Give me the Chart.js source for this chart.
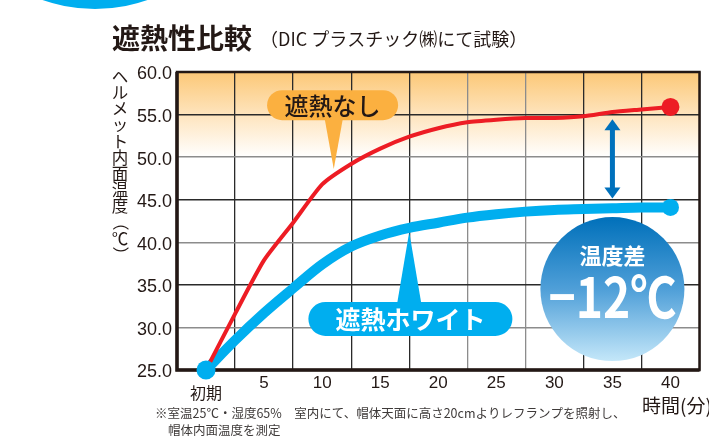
<!DOCTYPE html>
<html lang="ja">
<head>
<meta charset="utf-8">
<title>遮熱性比較</title>
<script src="https://cdn.jsdelivr.net/npm/chart.js@4.4.1/dist/chart.umd.min.js"></script>
<style>
  html, body { margin: 0; padding: 0; background: #fff; overflow: hidden; }
  canvas { display: block; }
</style>
</head>
<body>
<canvas id="heatChart" width="709" height="439"></canvas>
<script>
// temperature inside the helmet (°C), sampled every 2.5 minutes
const minutes = [0, 2.5, 5, 7.5, 10, 12.5, 15, 17.5, 20, 22.5, 25, 27.5, 30, 32.5, 35, 37.5, 40];
const noShield = [25, 31.6, 37.9, 42.3, 46.8, 49.2, 51.0, 52.4, 53.4, 54.1, 54.4, 54.6, 54.6, 54.8, 55.3, 55.6, 55.9];
const whiteShield = [25, 28.5, 31.7, 34.6, 37.4, 39.5, 40.8, 41.7, 42.3, 42.9, 43.3, 43.6, 43.8, 43.9, 44.0, 44.1, 44.1];

const xTicks = [0, 5, 10, 15, 20, 25, 30, 35, 40];
const xTickLabels = ['初期', '5', '10', '15', '20', '25', '30', '35', '40'];
const yTicks = [25, 30, 35, 40, 45, 50, 55, 60];
const seriesNames = ['遮熱なし', '遮熱ホワイト'];
const gapLabel = '温度差';
const gapValue = '−12℃';

const CJK = '"Noto Sans CJK JP", sans-serif';
const INK = '#231815';

function pill(ctx, cx, cy, w, h) {
  const r = h / 2, x = cx - w / 2, y = cy - h / 2;
  ctx.beginPath();
  ctx.moveTo(x + r, y);
  ctx.lineTo(x + w - r, y);
  ctx.arc(x + w - r, cy, r, -Math.PI / 2, Math.PI / 2);
  ctx.lineTo(x + r, y + h);
  ctx.arc(x + r, cy, r, Math.PI / 2, Math.PI * 1.5);
  ctx.closePath();
  ctx.fill();
}

function callout(ctx, box, tip, baseHalf, color, text, textColor, font) {
  ctx.fillStyle = color;
  pill(ctx, box.x, box.y, box.w, box.h);
  const baseY = tip.y > box.y ? box.y + box.h / 2 - 1 : box.y - box.h / 2 + 1;
  ctx.beginPath();
  ctx.moveTo(tip.x - baseHalf, baseY);
  ctx.lineTo(tip.x + baseHalf, baseY);
  ctx.lineTo(tip.x, tip.y);
  ctx.closePath();
  ctx.fill();
  ctx.fillStyle = textColor;
  ctx.font = font;
  ctx.textAlign = 'center';
  ctx.textBaseline = 'middle';
  ctx.fillText(text, box.x, box.y + 1);
}

const decor = {
  id: 'decor',
  beforeDraw(chart) {
    const { ctx, chartArea: a, scales: { y } } = chart;
    const g = ctx.createLinearGradient(0, a.top, 0, y.getPixelForValue(50));
    g.addColorStop(0, '#fcc877');
    g.addColorStop(0.5, '#fee4bd');
    g.addColorStop(1, '#ffffff');
    ctx.save();
    ctx.fillStyle = g;
    ctx.fillRect(a.left, a.top, a.width, a.height);
    ctx.restore();
  },
  beforeDatasetsDraw(chart) {
    const { ctx, chartArea: a } = chart;
    ctx.save();
    ctx.strokeStyle = INK;
    ctx.lineWidth = 2.5;
    ctx.strokeRect(a.left, a.top, a.width, a.height);
    ctx.lineWidth = 3.5;
    ctx.beginPath();
    ctx.moveTo(a.left, a.top);
    ctx.lineTo(a.left, a.bottom);
    ctx.lineTo(a.right, a.bottom);
    ctx.stroke();
    ctx.restore();
  },
  afterDatasetsDraw(chart) {
    const { ctx, scales: { x, y } } = chart;
    ctx.save();

    // series callouts
    callout(ctx,
      { x: x.getPixelForValue(10.9), y: y.getPixelForValue(56.1), w: 131, h: 30 },
      { x: x.getPixelForValue(11), y: y.getPixelForValue(48.6) },
      9, '#fbb040', seriesNames[0], INK, '500 24px ' + CJK);
    callout(ctx,
      { x: x.getPixelForValue(17.6), y: y.getPixelForValue(31.0), w: 204, h: 34 },
      { x: x.getPixelForValue(17.5), y: y.getPixelForValue(41.2) },
      12, '#00aeef', seriesNames[1], '#ffffff', 'bold 25px ' + CJK);

    // double arrow between the two curves at 35 min
    const ax = x.getPixelForValue(35);
    const top = y.getPixelForValue(54.45), bot = y.getPixelForValue(45.15);
    ctx.fillStyle = '#0071bc';
    ctx.fillRect(ax - 2.5, top + 10, 5, bot - top - 20);
    ctx.beginPath();
    ctx.moveTo(ax, top); ctx.lineTo(ax + 8, top + 11); ctx.lineTo(ax - 8, top + 11);
    ctx.closePath(); ctx.fill();
    ctx.beginPath();
    ctx.moveTo(ax, bot); ctx.lineTo(ax + 8, bot - 11); ctx.lineTo(ax - 8, bot - 11);
    ctx.closePath(); ctx.fill();

    // temperature difference badge
    const cx = x.getPixelForValue(35), cy = y.getPixelForValue(34.5), r = 72;
    const g = ctx.createLinearGradient(0, cy - r, 0, cy + r);
    g.addColorStop(0, '#0070ba');
    g.addColorStop(0.5, '#4f9fd8');
    g.addColorStop(1, '#c4e7f9');
    ctx.fillStyle = g;
    ctx.beginPath();
    ctx.arc(cx, cy, r, 0, Math.PI * 2);
    ctx.fill();
    ctx.fillStyle = '#ffffff';
    ctx.textAlign = 'center';
    ctx.textBaseline = 'middle';
    ctx.font = 'bold 22px ' + CJK;
    ctx.fillText(gapLabel, cx, cy - 33);
    ctx.font = 'bold 56px ' + CJK;
    const w = ctx.measureText(gapValue).width;
    ctx.save();
    ctx.translate(cx, cy + 8);
    ctx.scale(128 / w, 1);
    ctx.fillText(gapValue, 0, 0);
    ctx.restore();

    ctx.restore();
  },
  afterDraw(chart) {
    const { ctx } = chart;
    ctx.save();

    // corner decoration
    ctx.fillStyle = '#00aeef';
    ctx.beginPath();
    ctx.arc(95, -148.6, 157.6, 0, Math.PI * 2);
    ctx.fill();

    // heading
    ctx.fillStyle = INK;
    ctx.textBaseline = 'middle';
    ctx.textAlign = 'left';
    ctx.font = 'bold 28px ' + CJK;
    ctx.fillText('遮熱性比較', 112, 38);
    ctx.font = '18px ' + CJK;
    ctx.fillText('（DIC プラスチック㈱にて試験）', 260, 39);

    // vertical axis caption, written top to bottom
    const chars = Array.from('ヘルメット内面温度（℃）');
    ctx.font = '16.5px ' + CJK;
    ctx.textAlign = 'center';
    chars.forEach((c, i) => {
      const cyc = 76.5 + i * 16.2;
      if (c === '（' || c === '）') {
        ctx.save();
        ctx.translate(120, cyc);
        ctx.rotate(Math.PI / 2);
        ctx.fillText(c, 0, 0);
        ctx.restore();
      } else {
        ctx.fillText(c, 120, cyc);
      }
    });

    // horizontal axis caption
    ctx.textAlign = 'left';
    ctx.font = '19px ' + CJK;
    ctx.fillText('時間(分)', 642, 406);

    // test conditions
    ctx.fillStyle = '#3e3a39';
    ctx.font = '12.5px ' + CJK;
    ctx.fillText('※室温25℃・湿度65%　室内にて、帽体天面に高さ20cmよりレフランプを照射し、', 155, 413);
    ctx.fillText('帽体内面温度を測定', 168, 430);

    ctx.restore();
  }
};

const lastIdx = minutes.length - 1;

new Chart(document.getElementById('heatChart').getContext('2d'), {
  type: 'line',
  data: {
    datasets: [
      {
        label: seriesNames[0],
        data: minutes.map((m, i) => ({ x: m, y: noShield[i] })),
        borderColor: '#ed1c24',
        backgroundColor: '#ed1c24',
        borderWidth: 4,
        tension: 0.2,
        pointRadius: ctx => ctx.dataIndex === lastIdx ? 9 : 0,
        pointBorderWidth: 0,
        clip: false,
        order: 1
      },
      {
        label: seriesNames[1],
        data: minutes.map((m, i) => ({ x: m, y: whiteShield[i] })),
        borderColor: '#00aeef',
        backgroundColor: '#00aeef',
        borderWidth: 10,
        cubicInterpolationMode: 'monotone',
        pointRadius: ctx => ctx.dataIndex === lastIdx ? 8.5 : 0,
        pointBorderWidth: 0,
        clip: false,
        order: 2
      },
      {
        // common starting reading, drawn on top of both curves
        label: xTickLabels[0],
        data: [{ x: minutes[0], y: whiteShield[0] }],
        showLine: false,
        backgroundColor: '#00aeef',
        pointRadius: 9.5,
        pointBorderWidth: 0,
        clip: false,
        order: 0
      }
    ]
  },
  options: {
    responsive: false,
    animation: false,
    devicePixelRatio: 1,
    layout: { padding: { left: 0, right: 8, top: 72, bottom: 0 } },
    plugins: {
      legend: { display: false },
      tooltip: { enabled: false }
    },
    scales: {
      x: {
        type: 'linear',
        min: -2.5,
        max: 42.5,
        afterBuildTicks: s => { s.ticks = xTicks.map(v => ({ value: v })); },
        afterFit: s => { s.height = 69; },
        border: { display: false },
        grid: {
          offset: true,
          drawTicks: false,
          lineWidth: 1.3,
          color: ctx => (ctx.index === 5 || ctx.index === 6) ? '#8c8c8c' : '#2a2a2a'
        },
        ticks: {
          padding: 3,
          color: INK,
          maxRotation: 0,
          autoSkip: false,
          font: ctx => ctx.index === 0
            ? { family: CJK, size: 16, lineHeight: '13px' }
            : { family: '"Liberation Sans", Arial, sans-serif', size: 17 },
          callback: v => {
            const label = xTickLabels[xTicks.indexOf(v)];
            return v === 0 ? ['', label] : label;
          }
        }
      },
      y: {
        min: 25,
        max: 60,
        afterBuildTicks: s => { s.ticks = yTicks.map(v => ({ value: v })); },
        afterFit: s => { s.width = 177; },
        border: { display: false },
        grid: {
          drawTicks: false,
          lineWidth: 1.4,
          color: ctx => [30, 40, 50].includes(ctx.tick && ctx.tick.value) ? '#8c8c8c' : '#2a2a2a'
        },
        ticks: {
          padding: 5,
          labelOffset: 2.5,
          color: INK,
          font: { family: '"Liberation Sans", Arial, sans-serif', size: 18 },
          callback: v => v.toFixed(1)
        }
      }
    }
  },
  plugins: [decor]
});
</script>
</body>
</html>
